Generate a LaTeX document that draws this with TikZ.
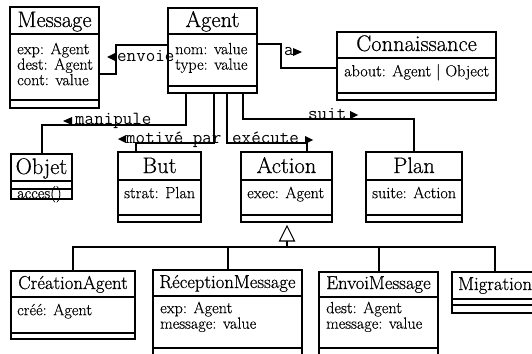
\documentclass[tikz,border=0pt]{standalone}
\usepackage{fontspec}
\newfontfamily\namefont{Latin Modern Roman}[RawFeature={embolden=0.6}]
\newfontfamily\attrfont{Latin Modern Roman}[RawFeature={embolden=0.3}]
\newcommand\firstline{\rule{0pt}{12pt}}
\begin{document}
\begin{tikzpicture}[x=1pt,y=-1pt,
  cls/.style={draw, line width=1.5pt, rectangle, inner sep=0pt, outer sep=0pt, anchor=north west},
  sep/.style={line width=1.5pt},
  wire/.style={line width=1.5pt},
  gen/.style={line width=1.1pt, fill=white},
  title/.style={inner sep=0pt, anchor=base, font=\namefont\fontsize{22.5}{23}\selectfont},
  subtitle/.style={inner sep=0pt, anchor=base, font=\namefont\fontsize{18.7}{19}\selectfont},
  attr/.style={inner sep=0pt, anchor=north west, align=left, font=\attrfont\fontsize{16.2}{15.5}\selectfont},
  lbl/.style={inner sep=0pt, anchor=base west, font=\ttfamily\fontsize{18.5}{19}\selectfont},
  tip/.style={fill=black},
]
\useasboundingbox (0,0) rectangle (532,353);
\clip (0,0) rectangle (532,353);

% ---------- class boxes ----------
\node[cls, minimum width=89pt, minimum height=101pt] (message) at (10,7) {};
\node[cls, minimum width=89pt, minimum height=85pt] (agent) at (168,8) {};
\node[cls, minimum width=159pt, minimum height=68pt] (conn) at (337,32) {};
\node[cls, minimum width=61pt, minimum height=45pt] (objet) at (11,154) {};
\node[cls, minimum width=83pt, minimum height=70pt] (but) at (118,152) {};
\node[cls, minimum width=91pt, minimum height=70pt] (action) at (241,152) {};
\node[cls, minimum width=96pt, minimum height=70pt] (plan) at (366,152) {};
\node[cls, minimum width=124pt, minimum height=68pt] (creation) at (11,271) {};
\node[cls, minimum width=149pt, minimum height=100pt] (reception) at (153,270) {};
\node[cls, minimum width=119pt, minimum height=98pt] (envoi) at (319,272) {};
\node[cls, minimum width=88pt, minimum height=41pt] (migration) at (452,272) {};

% compartment separators
\foreach \b/\ya/\yb in {message/34/100, agent/34/86, conn/58/93, objet/181/189,
    but/180/215, action/180/215, plan/180/215, creation/297/333,
    reception/296/348, envoi/297/348, migration/299/305}{
  \draw[sep] (\b.west |- 0,\ya) -- (\b.east |- 0,\ya);
  \draw[sep] (\b.west |- 0,\yb) -- (\b.east |- 0,\yb);
}

% ---------- class names ----------
\node[title] (messageT) at (message.north |- 0,27) {Message};
\node[title] (agentT) at (agent.north |- 0,27) {Agent};
\node[title] (connT) at (conn.north |- 0,51) {Connaissance};
\node[title] (objetT) at (objet.north |- 0,174) {Objet};
\node[title] (butT) at (but.north |- 0,173) {But};
\node[title] (actionT) at (action.north |- 0,173) {Action};
\node[title] (planT) at (plan.north |- 0,173) {Plan};
\node[subtitle] (creationT) at (creation.north |- 0,289) {CréationAgent};
\node[subtitle] (receptionT) at (reception.north |- 0,288) {RéceptionMessage};
\node[subtitle] (envoiT) at (envoi.north |- 0,289) {EnvoiMessage};
\node[subtitle, anchor=base west] (migrationT) at (458,290) {Migration};

% ---------- attributes / operations ----------
\node[attr] (messageA) at (17,42) {\firstline exp: Agent\\dest: Agent\\cont: value};
\node[attr] (agentA) at (175,42) {\firstline nom: value\\type: value};
\node[attr] (connA) at (344,64) {\firstline about: Agent | Object};
\node[attr] (objetO) at (17,186) {\firstline acces()};
\node[attr] (butA) at (124,186) {\firstline strat: Plan};
\node[attr] (actionA) at (247,186) {\firstline exec: Agent};
\node[attr] (planA) at (372,186) {\firstline suite: Action};
\node[attr] (creationA) at (17,303) {\firstline créé: Agent};
\node[attr] (receptionA) at (160,301) {\firstline exp: Agent\\message: value};
\node[attr] (envoiA) at (326,301) {\firstline dest: Agent\\message: value};

% ---------- associations ----------
\coordinate (e1) at (116,45);
\coordinate (e2) at (116,74);
\draw[wire] (agent.west |- e1) -- (e1) -- (e2) -- (message.east |- e2);
\coordinate (a1) at (281,44);
\coordinate (a2) at (281,68);
\draw[wire] (agent.east |- a1) -- (a1) -- (a2) -- (conn.west |- a2);
\coordinate (m1) at (186,125);
\coordinate (m2) at (42,125);
\draw[wire] (agent.south -| m1) -- (m1) -- (m2) -- (objet.north -| m2);
\coordinate (p1) at (214,143);
\coordinate (p2) at (136,143);
\draw[wire] (agent.south -| p1) -- (p1) -- (p2) -- (but.north -| p2);
\coordinate (x1) at (227,143);
\coordinate (x2) at (307,143);
\draw[wire] (agent.south -| x1) -- (x1) -- (x2) -- (action.north -| x2);
\coordinate (s1) at (243,119);
\coordinate (s2) at (414,119);
\draw[wire] (agent.south -| s1) -- (s1) -- (s2) -- (plan.north -| s2);

% association labels with direction marks
\node[lbl] (envoieL) at (117,61) {envoie};
\fill[tip] (107,57) -- (115,53) -- (115,61) -- cycle;
\node[lbl] (aL) at (284,56) {a};
\fill[tip] (302,52) -- (293,48) -- (293,56) -- cycle;
\node[lbl] (manipuleL) at (75,124) {manipule};
\fill[tip] (63,121) -- (72,117) -- (72,125) -- cycle;
\node[lbl] (motiveL) at (126,143) {motivé par};
\fill[tip] (118,139) -- (126,135) -- (126,143) -- cycle;
\node[lbl] (executeL) at (232,143) {exécute};
\fill[tip] (313,140) -- (305,136) -- (305,144) -- cycle;
\node[lbl] (suitL) at (308,119) {suit};
\fill[tip] (358,115) -- (350,111) -- (350,119) -- cycle;

% ---------- generalisation of Action ----------
\coordinate (g0) at (287,241);
\coordinate (g1) at (287,247);
\draw[gen] (287,226) -- (294.5,241) -- (279.5,241) -- cycle;
\draw[wire] (g0) -- (g1);
\draw[wire] (creation.north -| 73,0) -- (73,247) -- (495,247) -- (migration.north -| 495,0);
\draw[wire] (reception.north -| 228,0) -- (228,247);
\draw[wire] (envoi.north -| 379,0) -- (379,247);
\end{tikzpicture}
\end{document}
